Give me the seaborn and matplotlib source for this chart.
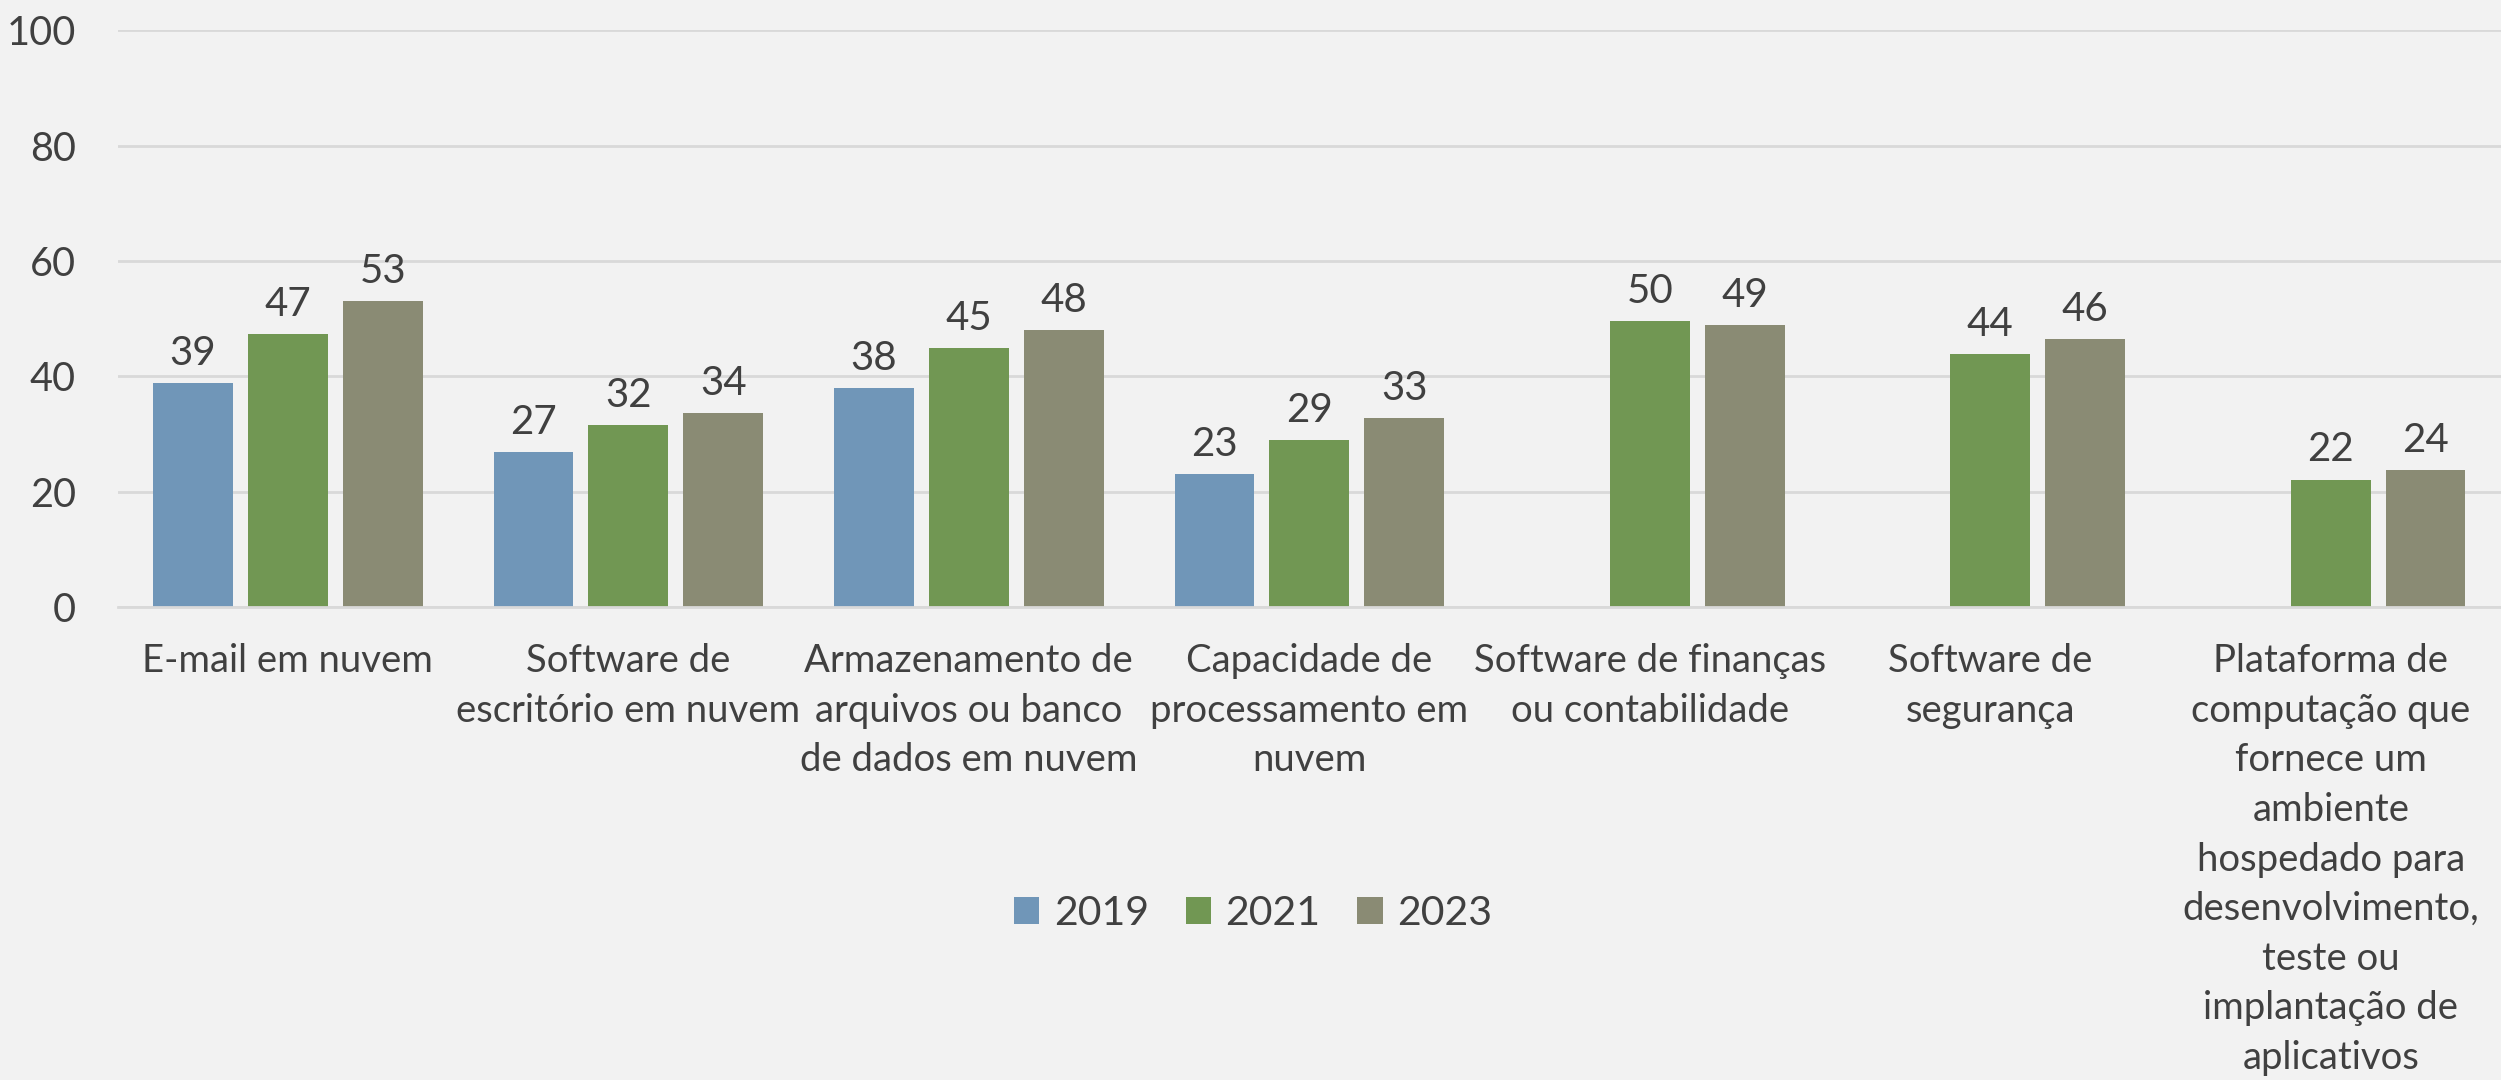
import seaborn as sns
import matplotlib.pyplot as plt
import pandas as pd
import numpy as np

# categories and yearly values (percent)
categories = [
    "E-mail em nuvem",
    "Software de\nescritório em nuvem",
    "Armazenamento de\narquivos ou banco\nde dados em nuvem",
    "Capacidade de\nprocessamento em\nnuvem",
    "Software de finanças\nou contabilidade",
    "Software de\nsegurança",
    "Plataforma de\ncomputação que\nfornece um\nambiente\nhospedado para\ndesenvolvimento,\nteste ou\nimplantação de\naplicativos",
]
years = ["2019", "2021", "2023"]
vals_2019 = [38.9, 26.9, 38.0, 23.1, np.nan, np.nan, np.nan]
vals_2021 = [47.3, 31.6, 44.9, 28.9, 49.6, 43.9, 22.1]
vals_2023 = [53.0, 33.6, 48.0, 32.7, 48.9, 46.4, 23.7]
colors = ["#7096B8", "#719753", "#8A8B74"]

df = pd.DataFrame({
    "cat": categories * 3,
    "year": [y for y in years for _ in categories],
    "val": vals_2019 + vals_2021 + vals_2023,
}).dropna()

txt = "#404040"
plt.rcParams['font.family'] = ['Lato', 'DejaVu Sans']
plt.rcParams['text.color'] = txt
plt.rcParams['xtick.color'] = txt
plt.rcParams['ytick.color'] = txt

fig = plt.figure(figsize=(25.01, 10.8), dpi=100, facecolor="#F2F2F2")
ax = fig.add_axes([0.047, 0.438, 0.953, 0.534])
ax.set_facecolor("#F2F2F2")

sns.barplot(data=df, x="cat", y="val", hue="year", order=categories,
            hue_order=years, palette=colors, width=0.836, gap=0.16,
            saturation=1, errorbar=None, ax=ax, legend=True)

for c in ax.containers:
    ax.bar_label(c, fmt="{:.0f}", padding=8, fontsize=29, color=txt)

ax.set_ylim(0, 100)
ax.set_xlim(-0.5, 6.5)
ax.set_yticks(range(0, 101, 20))
ax.yaxis.grid(True, color="#D9D9D9", linewidth=2)
ax.set_axisbelow(True)
for s in ["top", "right", "left"]:
    ax.spines[s].set_visible(False)
ax.spines["bottom"].set_color("#D9D9D9")
ax.spines["bottom"].set_linewidth(2)
ax.tick_params(axis="both", length=0)
ax.tick_params(axis="y", pad=30, labelsize=28.5)
ax.tick_params(axis="x", pad=26, labelsize=27.5)
ax.set_xlabel("")
ax.set_ylabel("")
ax.set_xticks(range(len(categories)))
ax.set_xticklabels(categories, linespacing=1.47, va="top")

handles, labels = ax.get_legend_handles_labels()
ax.get_legend().remove()
fig.legend(handles, labels, loc="center", bbox_to_anchor=(0.501, 0.154),
           ncol=3, frameon=False, fontsize=29.5, handlelength=0.62,
           handleheight=0.62, handletextpad=0.35, columnspacing=0.9)

fig.savefig("out.png", dpi=100, facecolor=fig.get_facecolor())
